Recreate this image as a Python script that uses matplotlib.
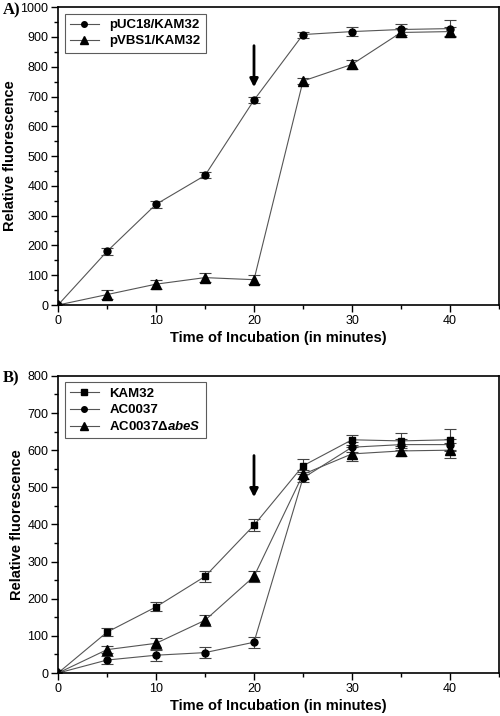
import matplotlib.pyplot as plt
from matplotlib.lines import Line2D
from matplotlib.ticker import MultipleLocator

plt.rcParams['font.family'] = ['Liberation Sans', 'DejaVu Sans']
plt.rcParams['mathtext.fontset'] = 'custom'
plt.rcParams['mathtext.rm'] = 'Liberation Sans:bold'
plt.rcParams['mathtext.it'] = 'Liberation Sans:bold:italic'

# ---------------- data ----------------
time = [0, 5, 10, 15, 20, 25, 30, 35, 40]

# panel A
puc18 = [0, 180, 338, 435, 688, 908, 918, 925, 928]
puc18_err = [5, 12, 12, 10, 10, 10, 15, 20, 28]
pvbs1 = [0, 35, 70, 92, 85, 752, 808, 915, 918]
pvbs1_err = [5, 15, 15, 15, 15, 10, 15, 15, 15]

# panel B
kam32 = [0, 110, 178, 260, 398, 558, 628, 625, 628]
kam32_err = [5, 10, 12, 14, 16, 18, 14, 20, 30]
ac0037 = [0, 35, 48, 55, 83, 525, 608, 615, 615]
ac0037_err = [5, 10, 15, 15, 15, 12, 14, 15, 15]
abes = [0, 63, 80, 142, 260, 535, 590, 598, 600]
abes_err = [5, 10, 15, 15, 14, 12, 18, 14, 20]

line_col = '#555555'
err_col = '#444444'

fig = plt.figure(figsize=(5, 7.16), dpi=100)
axA = fig.add_axes([0.116, 0.574, 0.882, 0.416])
axB = fig.add_axes([0.116, 0.060, 0.882, 0.415])


def series(ax, y, e, marker, ms, label):
    ax.errorbar(time, y, yerr=e, color=line_col, ecolor=err_col, elinewidth=0.8,
                capsize=4, capthick=0.8, lw=0.8, marker=marker, ms=ms,
                mfc='black', mec='black')
    return Line2D([], [], color=line_col, lw=0.8, marker=marker, ms=ms - 1,
                  mfc='black', mec='black', label=label)


hA = [series(axA, puc18, puc18_err, 'o', 5, 'pUC18/KAM32'),
      series(axA, pvbs1, pvbs1_err, '^', 6.5, 'pVBS1/KAM32')]
axA.set_ylim(0, 1000)
axA.yaxis.set_major_locator(MultipleLocator(100))
axA.yaxis.set_minor_locator(MultipleLocator(50))
axA.annotate('', xy=(20, 722), xytext=(20, 880),
             arrowprops=dict(arrowstyle='-|>', color='black', lw=2, mutation_scale=12))

hB = [series(axB, kam32, kam32_err, 's', 5, 'KAM32'),
      series(axB, ac0037, ac0037_err, 'o', 5, 'AC0037'),
      series(axB, abes, abes_err, '^', 6.5, r'AC0037$\Delta\mathit{abeS}$')]
axB.set_ylim(0, 800)
axB.yaxis.set_major_locator(MultipleLocator(100))
axB.yaxis.set_minor_locator(MultipleLocator(50))
axB.annotate('', xy=(20, 466), xytext=(20, 593),
             arrowprops=dict(arrowstyle='-|>', color='black', lw=2, mutation_scale=12))

for ax, handles in ((axA, hA), (axB, hB)):
    ax.set_xlim(0, 45)
    ax.xaxis.set_major_locator(MultipleLocator(10))
    ax.xaxis.set_minor_locator(MultipleLocator(5))
    ax.tick_params(which='both', direction='out', labelsize=9, width=1, pad=2)
    ax.tick_params(which='major', length=5)
    ax.tick_params(which='minor', length=3)
    for s in ax.spines.values():
        s.set_linewidth(1.2)
    ax.set_xlabel('Time of Incubation (in minutes)', fontsize=10.5, fontweight='bold', labelpad=3)
    ax.set_ylabel('Relative fluorescence', fontsize=10.5, fontweight='bold', labelpad=2)
    leg = ax.legend(handles=handles, loc='upper left', frameon=True, fancybox=False,
                    edgecolor='#333333', handlelength=2.2, borderpad=0.4,
                    labelspacing=0.3, prop={'weight': 'bold', 'size': 9.5})
    leg.get_frame().set_linewidth(0.8)

fig.text(0.005, 0.985, 'A)', fontsize=12, fontweight='bold', family='Liberation Serif',
         va='center')
fig.text(0.005, 0.472, 'B)', fontsize=12, fontweight='bold', family='Liberation Serif',
         va='center')

fig.savefig('out.png', dpi=100)
